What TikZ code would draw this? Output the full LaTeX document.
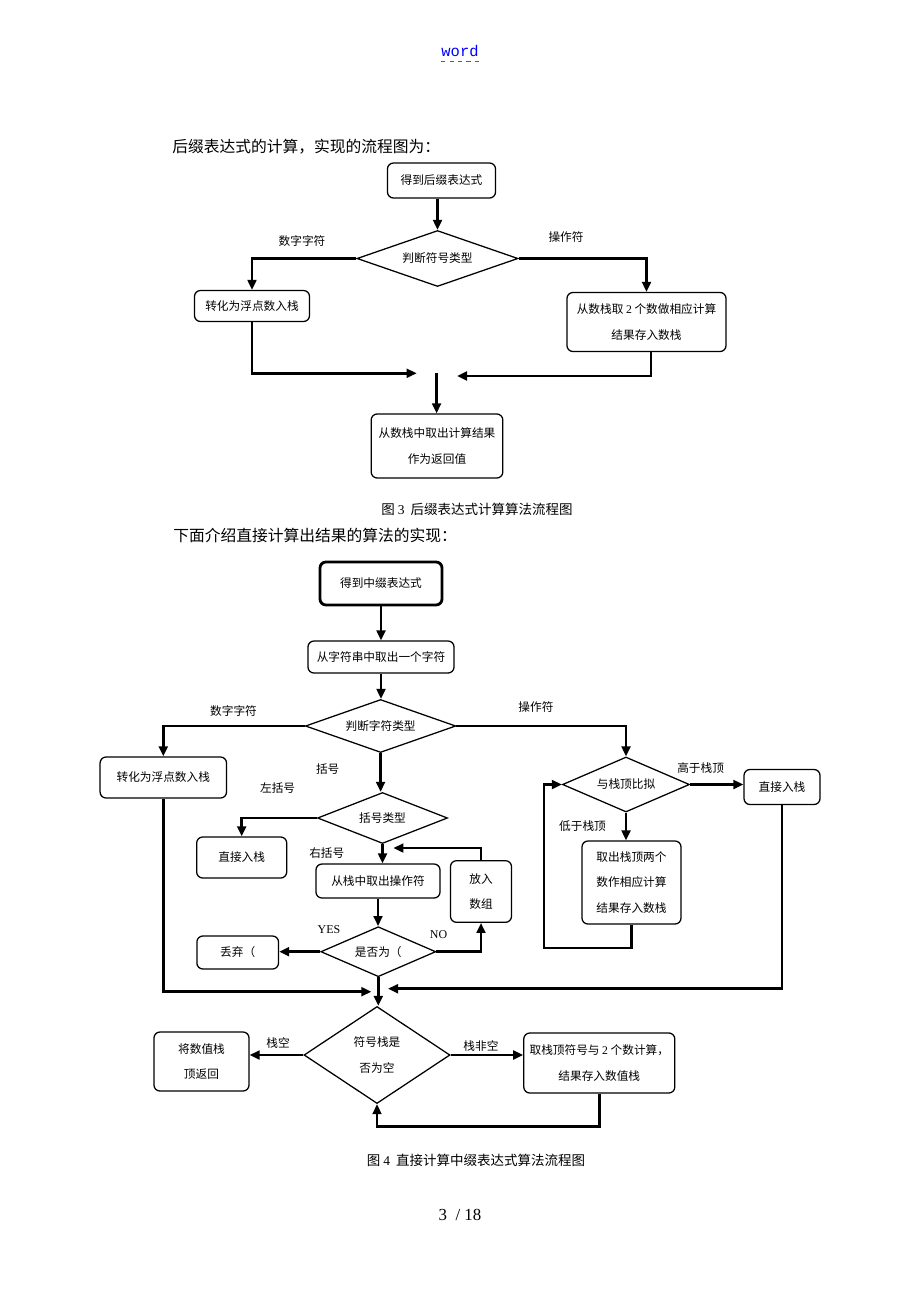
\documentclass[tikz,border=0pt]{standalone}
\usepackage{fontspec}
\setmainfont{Noto Sans CJK SC}
\newfontfamily\latserif{Liberation Serif}
\newfontfamily\latmono{Liberation Mono}
\usepackage{xcolor}
\usepackage{tikz}
\usetikzlibrary{calc}
\usetikzlibrary{arrows.meta}
\usetikzlibrary{shapes.geometric}
\newcommand{\boxfont}{\fontsize{8.3pt}{18pt}\selectfont}
\tikzstyle{procnode}=[black, draw=black, line width=0.9pt, shape=rectangle, rounded corners=1.5mm, fill=white, inner sep=0pt, align=center, font=\boxfont]
\tikzstyle{decnode}=[black, draw=black, line width=0.9pt, shape=diamond, fill=white, inner sep=0pt, align=center, font=\boxfont]
\tikzstyle{lblnode}=[black, inner sep=0pt, font=\boxfont]
\tikzstyle{flow}=[-{Triangle[length=2.5mm, width=2.2mm]}, line width=1.8pt, color=black]

\begin{document}
\begin{tikzpicture}[x=0.025cm, y=-0.025cm]
\useasboundingbox (0,0) rectangle (920,1302);
\fill[white] (0,0) rectangle (920,1302);

% page text
\node [inner sep=0pt, font=\latmono\fontsize{11pt}{13pt}\selectfont, color=blue] (hdr) at (460,51) {word};
\draw [blue!70, dashed, line width=0.6pt] ([yshift=-1.2mm]hdr.south west) -- ([yshift=-1.2mm]hdr.south east);
\node [anchor=west, inner sep=0pt, font=\fontsize{11.2pt}{14pt}\selectfont] (intro1) at (172,147) {后缀表达式的计算，实现的流程图为：};
\node [anchor=west, inner sep=0pt, font=\fontsize{11.2pt}{14pt}\selectfont] (intro2) at (173,535) {下面介绍直接计算出结果的算法的实现：};
\node [inner sep=0pt, font=\fontsize{9.6pt}{12pt}\selectfont] (cap1) at (477,509) {图 {\latserif 3}\ \ 后缀表达式计算算法流程图};
\node [inner sep=0pt, font=\fontsize{9.6pt}{12pt}\selectfont] (cap2) at (476,1160) {图 {\latserif 4}\ \ 直接计算中缀表达式算法流程图};
\node [inner sep=0pt, font=\latserif\fontsize{12pt}{14pt}\selectfont] (pageno) at (460,1215) {3\ \ / 18};

% figure 3
\node [procnode, minimum width=27mm, minimum height=8.75mm] (get) at (441.5,180.5) {得到后缀表达式};
\node [decnode, aspect=2.9, minimum width=40.25mm, minimum height=14mm] (type) at (437.5,258.5) {判断符号类型};
\node [procnode, minimum width=28.75mm, minimum height=7.75mm] (tofloat) at (252,306) {转化为浮点数入栈};
\node [procnode, minimum width=39.75mm, minimum height=14.75mm] (calc) at (646.5,322) {从数栈取 {\latserif 2} 个数做相应计算\\结果存入数栈};
\node [procnode, minimum width=32.9mm, minimum height=16mm] (result) at (437,446) {从数栈中取出计算结果\\作为返回值};
\node [lblnode] (digit) at (302,241) {数字字符};
\node [lblnode] (oper) at (566,237) {操作符};
\coordinate (joinl) at (416.7,373.3);
\coordinate (joinr) at (457,376);
\coordinate (joinb) at (436.6,372.7);

\draw[flow] (type.north |- get.south) -- (type.north);
\draw[flow] (type.west) -| (tofloat.north);
\draw[flow] (type.east) -| (calc.north);
\draw[flow] (tofloat.south) |- (joinl);
\draw[flow] ([xshift=1.1mm]calc.south) |- (joinr);
\draw[flow] (joinb) -- (joinb |- result.north);

% figure 4
\node [procnode, line width=2pt, minimum width=30.5mm, minimum height=10.75mm] (getin) at (381,583.5) {得到中缀表达式};
\node [procnode, minimum width=36.5mm, minimum height=8mm] (pick) at (381,657) {从字符串中取出一个字符};
\node [decnode, aspect=2.8, minimum width=37.6mm, minimum height=13.25mm] (chartype) at (380.6,726) {判断字符类型};
\node [procnode, minimum width=31.6mm, minimum height=10.25mm] (tofloat2) at (163.3,777.5) {转化为浮点数入栈};
\node [decnode, aspect=2.3, minimum width=31.75mm, minimum height=13.75mm] (compare) at (626,784.5) {与栈顶比拟};
\node [procnode, minimum width=19mm, minimum height=8.75mm] (push) at (782,787) {直接入栈};
\node [decnode, aspect=2.5, minimum width=32.5mm, minimum height=12.75mm] (bracket) at (382.5,818) {括号类型};
\node [procnode, minimum width=22.5mm, minimum height=10.25mm] (pushl) at (241.7,857.5) {直接入栈};
\node [procnode, minimum width=31mm, minimum height=8.5mm] (popop) at (378,881) {从栈中取出操作符};
\node [procnode, minimum width=15.25mm, minimum height=15.4mm] (store) at (481,891.5) {放入\\数组};
\node [decnode, aspect=2.3, minimum width=28.75mm, minimum height=12.5mm] (isparen) at (378.3,951.7) {是否为（};
\node [procnode, minimum width=20.4mm, minimum height=8.25mm] (discard) at (237.7,952.5) {丢弃（};
\node [procnode, minimum width=24.75mm, minimum height=20.75mm] (top2) at (631.5,882.5) {取出栈顶两个\\数作相应计算\\结果存入数栈};
\node [decnode, aspect=1.5, minimum width=36.5mm, minimum height=24.25mm] (empty) at (377,1055) {符号栈是\\否为空};
\node [procnode, minimum width=23.75mm, minimum height=14.75mm] (retval) at (201.5,1061.5) {将数值栈\\顶返回};
\node [procnode, minimum width=37.75mm, minimum height=15mm] (calc2) at (599.3,1063) {取栈顶符号与 {\latserif 2} 个数计算，\\结果存入数值栈};

\node [lblnode] (digit2) at (233.5,711) {数字字符};
\node [lblnode] (oper2) at (536,707) {操作符};
\node [lblnode] (paren) at (327.7,769) {括号};
\node [lblnode] (lparen) at (277.6,788.5) {左括号};
\node [lblnode] (rparen) at (326.8,853) {右括号};
\node [lblnode] (higher) at (700.6,768) {高于栈顶};
\node [lblnode] (lower) at (582.5,826.5) {低于栈顶};
\node [lblnode, font=\latserif\fontsize{8.5pt}{10pt}\selectfont] (yes) at (329,930) {YES};
\node [lblnode, font=\latserif\fontsize{8.5pt}{10pt}\selectfont] (no) at (438.5,935) {NO};
\node [lblnode] (isempty) at (278,1043) {栈空};
\node [lblnode] (notempty) at (481,1046.5) {栈非空};

\coordinate (jl) at (371.4,991.7);
\coordinate (jr) at (388,988.7);
\coordinate (backin) at (393.4,848);
\coordinate (loopb) at (544,948);
\coordinate (backc) at (377,1126.7);

\draw[flow] (getin.south) -- (getin.south |- pick.north);
\draw[flow] (pick.south) -- (pick.south |- chartype.north);
\draw[flow] (chartype.west) -| (tofloat2.north);
\draw[flow] (chartype.east) -| (compare.north);
\draw[flow] (chartype.south) -- (chartype.south |- bracket.north);
\draw[flow] (bracket.west) -| (pushl.north);
\draw[flow] (bracket.south) -- (bracket.south |- popop.north);
\draw[flow] (popop.south) -- (popop.south |- isparen.north);
\draw[flow] (isparen.west) -- (isparen.west -| discard.east);
\draw[flow] (isparen.east) -| (store.south);
\draw[flow] (store.north) |- (backin);
\draw[flow] (compare.east) -- (compare.east -| push.west);
\draw[flow] (compare.south) -- (compare.south |- top2.north);
\draw[flow] (top2.south) |- (loopb) |- (compare.west);
\draw[flow] (tofloat2.south) |- (jl);
\draw[flow] (push.south) |- (jr);
\draw[flow] (isparen.south) -- (isparen.south |- empty.north);
\draw[flow] (empty.west) -- (empty.west -| retval.east);
\draw[flow] (empty.east) -- (empty.east -| calc2.west);
\draw[flow] (calc2.south) |- (backc) -- (empty.south);
\end{tikzpicture}
\end{document}
